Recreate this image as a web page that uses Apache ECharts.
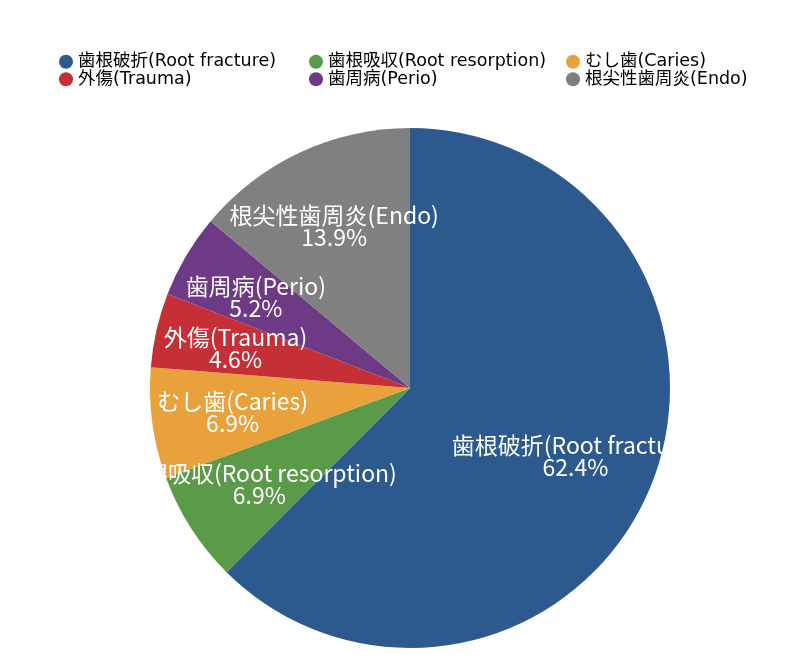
<!DOCTYPE html>
<html>
<head>
<meta charset="utf-8">
<script src="https://cdn.jsdelivr.net/npm/echarts@6/dist/echarts.min.js"></script>
<style>
html, body { margin: 0; padding: 0; background: #fff; }
#main { width: 800px; height: 664px; }
</style>
</head>
<body>
<div id="main"></div>
<script>
var categories = ['歯根破折(Root fracture)', '歯根吸収(Root resorption)', 'むし歯(Caries)', '外傷(Trauma)', '歯周病(Perio)', '根尖性歯周炎(Endo)'];
var percents = [62.4, 6.9, 6.9, 4.6, 5.2, 13.9];
var colors = ['#2d5a8e', '#5b9a48', '#e9a23b', '#c62f36', '#6e3a86', '#808080'];

var font = '"Noto Sans CJK JP", "Noto Sans", sans-serif';
var legendFont = '"DejaVu Sans", "Noto Sans CJK JP", sans-serif';

chart();

function chart() {
	var myChart = echarts.init(document.getElementById('main'));

	var pieData = [];
	for (var i = 0; i < categories.length; i++) {
		pieData.push({ name: categories[i], value: percents[i] });
	}

	// 凡例は3列×2行
	var legendCols = [
		[categories[0], categories[3]],
		[categories[1], categories[4]],
		[categories[2], categories[5]]
	];
	var legendLeft = [54, 304, 561];
	var legends = [];
	for (var j = 0; j < legendCols.length; j++) {
		legends.push({
			orient: 'vertical',
			left: legendLeft[j],
			top: 48,
			itemGap: 0,
			itemWidth: 14,
			itemHeight: 14,
			icon: 'circle',
			data: legendCols[j],
			textStyle: { fontFamily: legendFont, fontSize: 17.5, color: '#000' }
		});
	}

	var option = {
		color: colors,
		animation: false,
		legend: legends,
		series: [{
			type: 'pie',
			center: [410, 388],
			radius: [0, 260],
			startAngle: 90,
			clockwise: true,
			data: pieData,
			label: { show: false },
			labelLine: { show: false },
			itemStyle: { borderWidth: 0 }
		}, {
			// ラベル専用の透明な円（ラベル位置を外寄りにするため）
			type: 'pie',
			center: [410, 388],
			radius: [0, 352],
			startAngle: 90,
			clockwise: true,
			silent: true,
			data: pieData,
			itemStyle: { color: 'rgba(0,0,0,0)', borderWidth: 0 },
			label: {
				show: true,
				position: 'inside',
				formatter: '{b}\n{c}%',
				color: '#fff',
				fontFamily: font,
				fontSize: 23,
				lineHeight: 22
			},
			labelLine: { show: false }
		}]
	};
	myChart.setOption(option);
}
</script>
</body>
</html>
